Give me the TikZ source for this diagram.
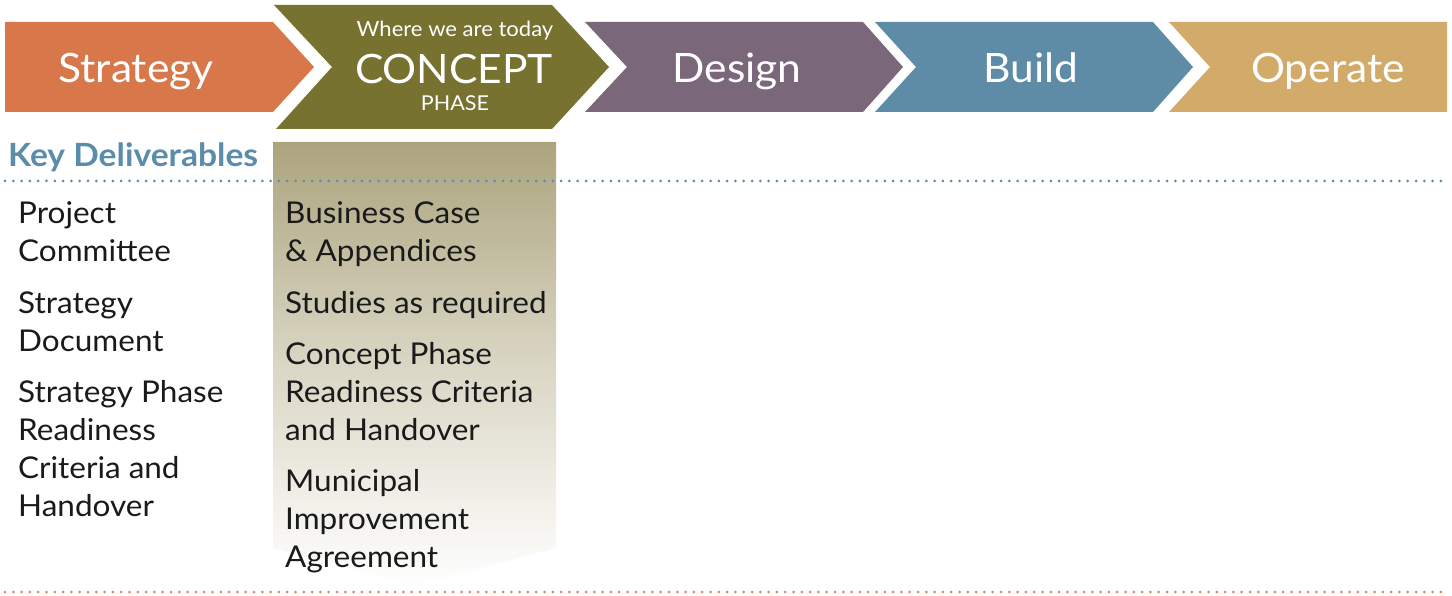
\documentclass[tikz,border=0pt]{standalone}
\usepackage{fontspec}
\setmainfont{Lato}[FakeStretch=1.05]
\definecolor{cStrat}{HTML}{D8784A}
\definecolor{cConc}{HTML}{77722F}
\definecolor{cDes}{HTML}{7A677A}
\definecolor{cBuild}{HTML}{5E8CA7}
\definecolor{cOp}{HTML}{D2AB6B}
\definecolor{cKey}{HTML}{5B8DAA}
\definecolor{cDotO}{HTML}{E38858}
\definecolor{cGrad}{HTML}{ACA47D}
\definecolor{cText}{HTML}{1A1A1A}
\begin{document}
\begin{tikzpicture}[x=1pt,y=-1pt,
  phase/.style={text=white, font=\fontsize{40.5}{44}\selectfont, anchor=base, inner sep=0pt},
  small/.style={text=white, font=\fontsize{21}{24}\selectfont, anchor=base, inner sep=0pt},
  item/.style={anchor=base west, font=\fontsize{30}{34}\selectfont, text=cText, inner sep=0pt},
  dotline/.style={line width=3pt, line cap=round, dash pattern=on 0pt off 8.3pt}
]
\useasboundingbox (0,0) rectangle (1452,596);
% gradient deliverables panel
\shade[top color=cGrad, bottom color=white, middle color=cGrad!45!white]
  (273,142) -- (556,142) -- (556,548) -- (414,586) -- (273,548) -- cycle;
% chevrons
\fill[cStrat] (5,22) -- (273,22) -- (314,67) -- (273,112) -- (5,112) -- cycle;
\fill[cConc] (274,5) -- (552,5) -- (609,67) -- (552,129) -- (276,129) -- (332,67) -- cycle;
\fill[cDes] (585,22) -- (863,22) -- (903,67) -- (863,112) -- (585,112) -- (627,67) -- cycle;
\fill[cBuild] (875,22) -- (1153,22) -- (1193,67) -- (1153,112) -- (875,112) -- (916,67) -- cycle;
\fill[cOp] (1169,22) -- (1447,22) -- (1447,112) -- (1169,112) -- (1210,67) -- cycle;
% phase labels
\node[phase] (strat) at (136,83) {Strategy};
\node[small] (today) at (455,37) {Where we are today};
\node[phase] (concept) at (454,84) {CONCEPT};
\node[small, font=\fontsize{20.5}{24}\selectfont] (phaseword) at (455,111) {PHASE};
\node[phase] (design) at (737,83) {Design};
\node[phase] (build) at (1031,83) {Build};
\node[phase] (operate) at (1328,83) {Operate};
% key deliverables
\node[anchor=base west, inner sep=0pt, text=cKey, font=\bfseries\fontsize{32}{36}\selectfont] (key) at (8,167) {Key Deliverables};
\coordinate (b1) at (5,181);
\coordinate (b2) at (1447,181);
\draw[dotline, cKey] (b1) -- (b2);
\coordinate (o1) at (5,592);
\coordinate (o2) at (1447,592);
\draw[dotline, cDotO] (o1) -- (o2);
% left column
\node[item] (l1) at (18,224) {Project};
\node[item] (l2) at (18,262) {Committee};
\node[item] (l3) at (18,313) {Strategy};
\node[item] (l4) at (18,351) {Document};
\node[item] (l5) at (18,402) {Strategy Phase};
\node[item] (l6) at (18,440) {Readiness};
\node[item] (l7) at (18,478) {Criteria and};
\node[item] (l8) at (18,516) {Handover};
% right column
\node[item] (r1) at (285,224) {Business Case};
\node[item] (r2) at (285,262) {\& Appendices};
\node[item] (r3) at (285,313) {Studies as required};
\node[item] (r4) at (285,364) {Concept Phase};
\node[item] (r5) at (285,402) {Readiness Criteria};
\node[item] (r6) at (285,440) {and Handover};
\node[item] (r7) at (285,491) {Municipal};
\node[item] (r8) at (285,529) {Improvement};
\node[item] (r9) at (285,567) {Agreement};
\end{tikzpicture}
\end{document}
